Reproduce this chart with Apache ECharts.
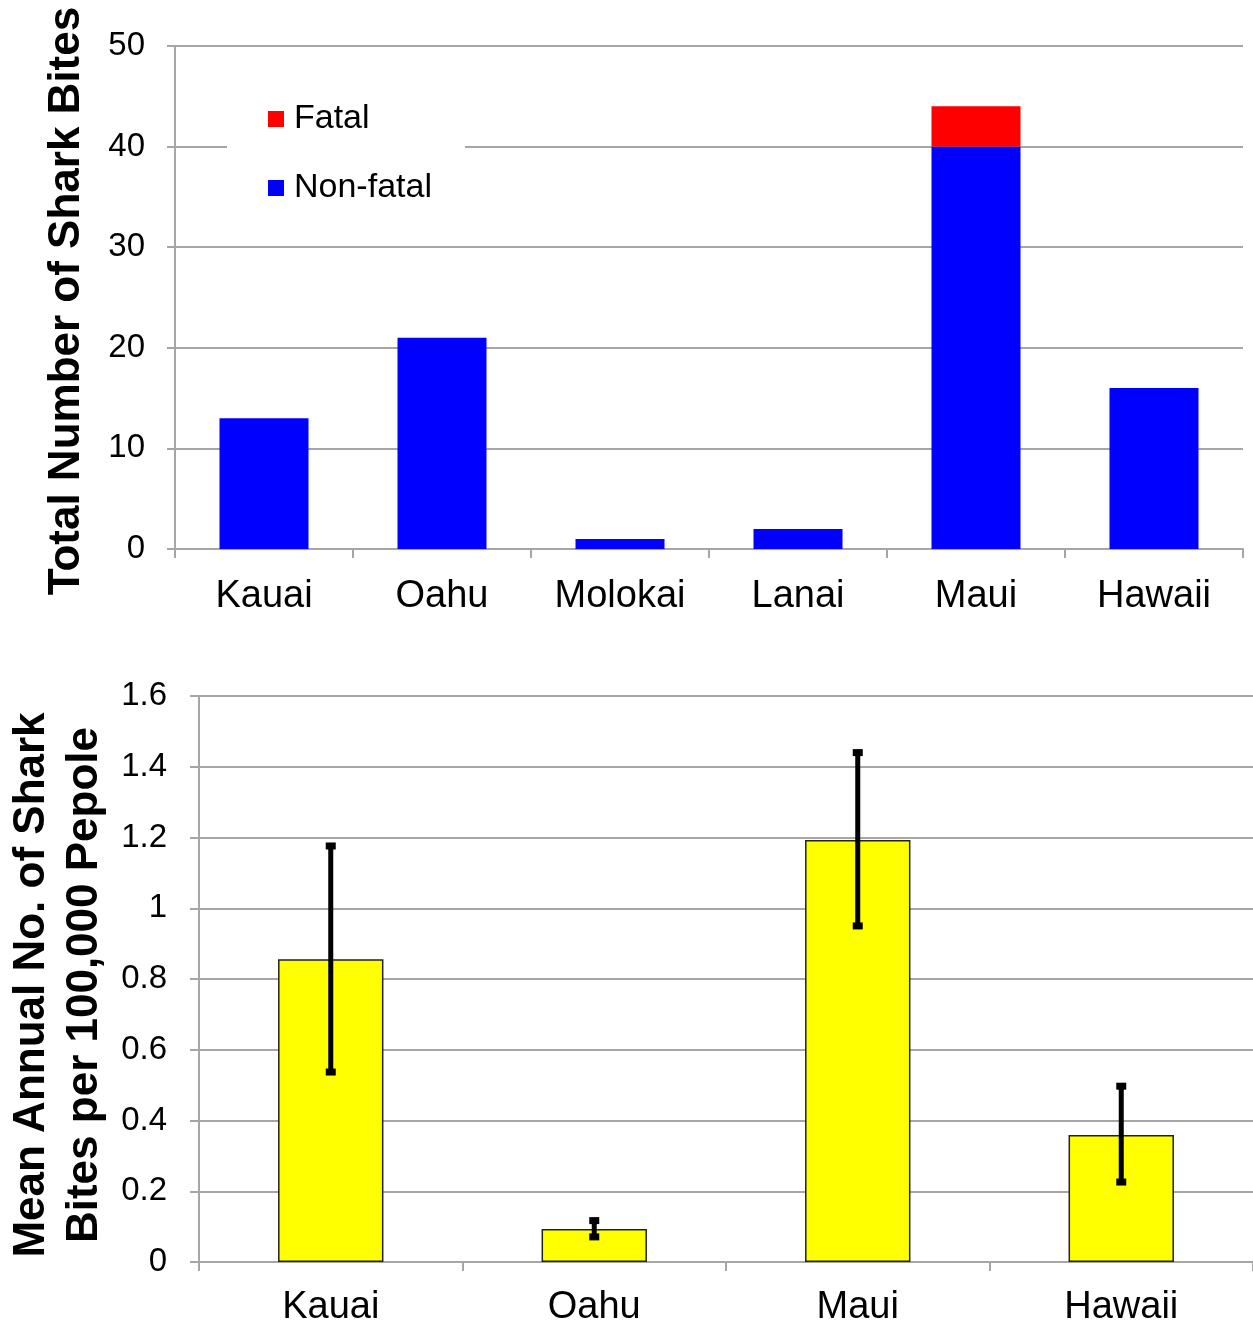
<!DOCTYPE html>
<html>
<head>
<meta charset="utf-8">
<script src="https://cdn.jsdelivr.net/npm/echarts@6/dist/echarts.min.js"></script>
<style>html,body{margin:0;padding:0;background:#fff}#c{width:1253px;height:1325px}</style>
</head>
<body>
<div id="c"></div>
<script>
// Top chart data
const islandsTop = ['Kauai', 'Oahu', 'Molokai', 'Lanai', 'Maui', 'Hawaii'];
const nonFatal = [13, 21, 1, 2, 40, 16];
const fatal = [0, 0, 0, 0, 4, 0];
const topTicks = [0, 10, 20, 30, 40, 50];

// Bottom chart data
const islandsBottom = ['Kauai', 'Oahu', 'Maui', 'Hawaii'];
const meanRate = [0.856, 0.093, 1.193, 0.359];
const errHigh = [1.176, 0.117, 1.44, 0.497];
const errLow = [0.537, 0.071, 0.95, 0.226];
const bottomTicks = [0, 0.2, 0.4, 0.6, 0.8, 1, 1.2, 1.4, 1.6];

const FONT = 'Liberation Sans, Arial, sans-serif';
const GRID_C = '#a6a6a6';

const chart = echarts.init(document.getElementById('c'), null, {renderer: 'canvas'});

const errData = islandsBottom.map((c, i) => [i, errLow[i], errHigh[i]]);

const option = {
  animation: false,
  backgroundColor: '#fff',
  textStyle: {fontFamily: FONT},
  grid: [
    {left: 175, top: 46, width: 1068, height: 503, containLabel: false, outerBoundsMode: 'none'},
    {left: 199, top: 696, width: 1054, height: 566, containLabel: false, outerBoundsMode: 'none'}
  ],
  legend: {
    gridIndex: 0,
    data: ['Fatal', 'Non-fatal'],
    orient: 'vertical',
    left: 227,
    top: 80,
    backgroundColor: '#fff',
    padding: [22, 33, 22, 41],
    itemWidth: 16,
    itemHeight: 16,
    itemGap: 35,
    icon: 'rect',
    textStyle: {fontSize: 34, color: '#000', fontFamily: FONT, lineHeight: 34, padding: [0, 0, 0, 5]},
    z: 10
  },
  xAxis: [
    {
      type: 'category', gridIndex: 0, data: islandsTop,
      axisLine: {lineStyle: {color: GRID_C, width: 2}},
      axisTick: {show: true, length: 9, lineStyle: {color: GRID_C, width: 2}},
      axisLabel: {fontSize: 38, color: '#000', margin: 29, fontFamily: FONT}
    },
    {
      type: 'category', gridIndex: 1, data: islandsBottom,
      axisLine: {lineStyle: {color: GRID_C, width: 2}},
      axisTick: {show: true, length: 9, lineStyle: {color: GRID_C, width: 2}},
      axisLabel: {fontSize: 38, color: '#000', margin: 27, fontFamily: FONT}
    }
  ],
  yAxis: [
    {
      type: 'value', gridIndex: 0, min: topTicks[0], max: topTicks[topTicks.length - 1], interval: 10,
      axisLine: {show: true, lineStyle: {color: GRID_C, width: 2}},
      axisTick: {show: true, length: 8, lineStyle: {color: GRID_C, width: 2}},
      splitLine: {lineStyle: {color: GRID_C, width: 2}},
      axisLabel: {fontSize: 33, color: '#000', margin: 30, fontFamily: FONT}
    },
    {
      type: 'value', gridIndex: 1, min: bottomTicks[0], max: bottomTicks[bottomTicks.length - 1], interval: 0.2,
      axisLine: {show: true, lineStyle: {color: GRID_C, width: 2}},
      axisTick: {show: true, length: 9, lineStyle: {color: GRID_C, width: 2}},
      splitLine: {lineStyle: {color: GRID_C, width: 2}},
      axisLabel: {fontSize: 33, color: '#000', margin: 32, fontFamily: FONT,
        formatter: v => String(Math.round(v * 10) / 10)}
    }
  ],
  series: [
    {
      name: 'Non-fatal', type: 'bar', stack: 'bites', xAxisIndex: 0, yAxisIndex: 0,
      data: nonFatal, barWidth: '50%', itemStyle: {color: '#0000ff'}
    },
    {
      name: 'Fatal', type: 'bar', stack: 'bites', xAxisIndex: 0, yAxisIndex: 0,
      data: fatal, barWidth: '50%', itemStyle: {color: '#ff0000'}
    },
    {
      name: 'Mean', type: 'bar', xAxisIndex: 1, yAxisIndex: 1,
      data: meanRate, barWidth: '40%',
      itemStyle: {color: '#ffff00', borderColor: '#222', borderWidth: 1.5}
    },
    {
      name: 'Error', type: 'custom', xAxisIndex: 1, yAxisIndex: 1, z: 5,
      data: errData,
      renderItem: function (params, api) {
        const x = api.value(0);
        const lo = api.coord([x, api.value(1)]);
        const hi = api.coord([x, api.value(2)]);
        const cw = 10, ch = 7;
        return {
          type: 'group',
          children: [
            {type: 'line', shape: {x1: hi[0], y1: hi[1], x2: lo[0], y2: lo[1]}, style: {stroke: '#000', lineWidth: 5}},
            {type: 'rect', shape: {x: hi[0] - cw / 2, y: hi[1] - ch / 2, width: cw, height: ch}, style: {fill: '#000'}},
            {type: 'rect', shape: {x: lo[0] - cw / 2, y: lo[1] - ch / 2, width: cw, height: ch}, style: {fill: '#000'}}
          ]
        };
      }
    }
  ],
  graphic: [
    {
      type: 'text', x: 67, y: 301, rotation: Math.PI / 2,
      style: {text: 'Total Number of Shark Bites', fontSize: 44, fontWeight: 'bold', fontFamily: FONT,
        fill: '#000', align: 'center', verticalAlign: 'middle'}
    },
    {
      type: 'text', x: 58, y: 985, rotation: Math.PI / 2,
      style: {text: 'Mean Annual No. of Shark\nBites per 100,000 Pepole', fontSize: 44, fontWeight: 'bold', fontFamily: FONT,
        fill: '#000', align: 'center', verticalAlign: 'middle', lineHeight: 53}
    }
  ]
};
chart.setOption(option);
</script>
</body>
</html>
